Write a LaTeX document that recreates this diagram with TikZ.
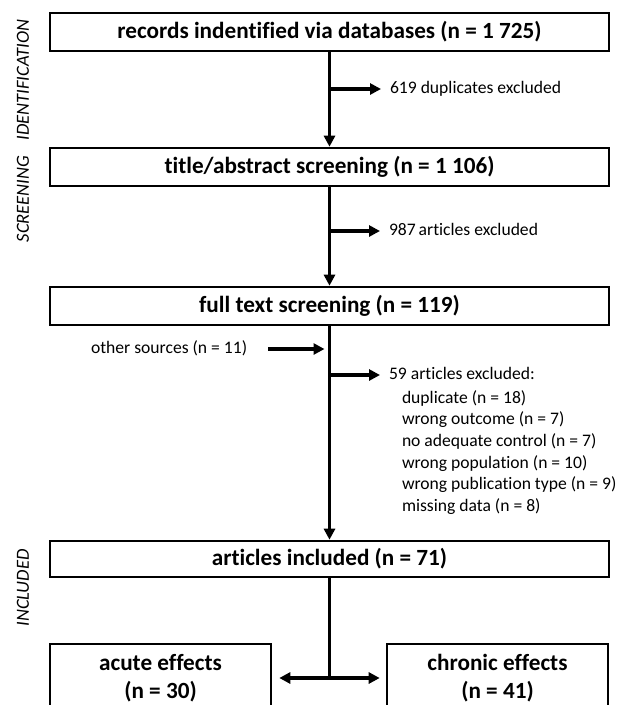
\documentclass[tikz,border=0pt]{standalone}
\usepackage{fontspec}
\setmainfont{Carlito}[Ligatures=NoCommon]
\usepackage{tikz}
\usetikzlibrary{arrows.meta,positioning}
\tikzstyle{box} = [draw, rectangle, line width=2.6pt, minimum width=559pt,
    minimum height=38pt, inner sep=0pt, font=\bfseries\fontsize{23.2}{28}\selectfont]
\tikzstyle{note} = [inner sep=0pt, outer xsep=9pt, anchor=west, text height=12.5pt,
    text depth=4pt, font=\fontsize{17.6}{21}\selectfont]
\tikzstyle{phase} = [rotate=90, inner sep=0pt, font=\itshape\fontsize{18.5}{22}\selectfont]
\tikzstyle{flow} = [line width=3.6pt, -{Triangle[length=11pt,width=11pt]}]
\tikzstyle{side} = [line width=3.2pt, -{Triangle[length=11pt,width=11pt]}]

\begin{document}
\begin{tikzpicture}[x=1pt, y=1pt, node distance=135pt]
  \useasboundingbox (0,0) rectangle (630,-705);
  \node [box] (b1) at (329.5,-32) {records indentified via databases (n = 1 725)};
  \node [box, below of=b1, node distance=135pt] (b2) {title/abstract screening (n = 1 106)};
  \node [box, below of=b2, node distance=139pt] (b3) {full text screening (n = 119)};
  \node [box, below of=b3, node distance=253pt, minimum height=36pt] (b4) {articles included (n = 71)};
  \node [box, minimum width=221pt, minimum height=68pt, align=center] (acute) at (160.5,-678) {acute effects\\(n = 30)};
  \node [box, minimum width=221pt, minimum height=68pt, align=center, right of=acute, node distance=337pt] (chronic) {chronic effects\\(n = 41)};
  % phase labels
  \node [phase] (p1) at (23,-80) {IDENTIFICATION};
  \node [phase] (p2) at (23,-199) {SCREENING};
  \node [phase] (p3) at (23,-588) {INCLUDED};
  % exclusions
  \node [note] (d1) at (381,-89) {619 duplicates excluded};
  \node [note] (d2) at (380,-231) {987\,articles excluded};
  \node [note] (ex3) at (380,-375) {59 articles excluded:};
  \node [note] (ex3a) at ([xshift=13pt,yshift=-24pt]ex3.west) {duplicate (n = 18)};
  \node [note] (ex3b) at ([yshift=-21.6pt]ex3a.west) {wrong outcome (n = 7)};
  \node [note] (ex3c) at ([yshift=-21.6pt]ex3b.west) {no adequate control (n = 7)};
  \node [note] (ex3d) at ([yshift=-21.6pt]ex3c.west) {wrong population (n = 10)};
  \node [note] (ex3e) at ([yshift=-21.6pt]ex3d.west) {wrong publication type (n = 9)};
  \node [note] (ex3f) at ([yshift=-21.6pt]ex3e.west) {missing data (n = 8)};
  \node [note, outer xsep=0pt] (src) at (91,-349) {other sources (n = 11)};
  % connectors
  \draw [flow] (b1) -- (b2);
  \draw [side] (b1 |- d1) -- (d1.west);
  \draw [flow] (b2) -- (b3);
  \draw [side] (b2 |- d2) -- (d2.west);
  \draw [flow] (b3) -- (b4);
  \draw [side] (b3 |- ex3) -- (ex3.west);
  \draw [side, shorten >=5pt] ([xshift=21pt]src.east) -- (src -| b3);
  \coordinate (j) at (b4 |- acute);
  \draw [line width=3.6pt] (b4) -- (j);
  \draw [side, shorten >=7pt] (j) -- (acute);
  \draw [side, shorten >=6pt] (j) -- (chronic);
\end{tikzpicture}
\end{document}
